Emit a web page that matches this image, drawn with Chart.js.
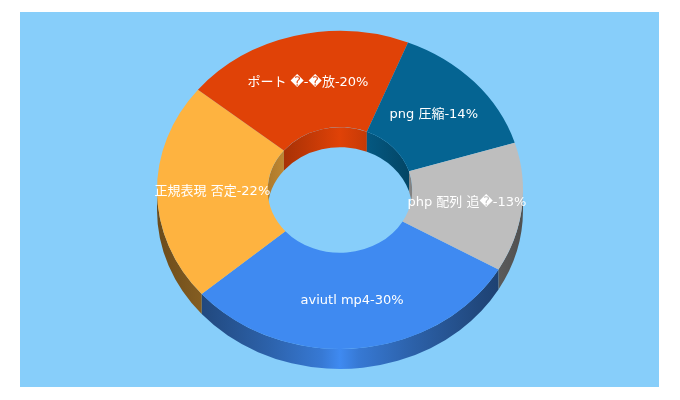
<!DOCTYPE html>
<html>
<head>
<meta charset="utf-8">
<title>3D donut</title>
<style>
  html, body { margin: 0; padding: 0; background: #fff; }
  #wrap { position: relative; width: 680px; height: 400px; overflow: hidden; }
  #panel { position: absolute; left: 20px; top: 12px; width: 639px; height: 375px; background: #87CEFA; }
  #chart { position: absolute; left: 0; top: 0; }
</style>
</head>
<body>
<div id="wrap">
  <div id="panel"></div>
  <canvas id="chart" width="680" height="400"></canvas>
</div>
<script src="https://cdn.jsdelivr.net/npm/chart.js@4"></script>
<script>
/* Data, clockwise from the blue slice */
var categories = ['aviutl mp4', '正規表現 否定', 'ポート \uFFFD-\uFFFD放', 'png 圧縮', 'php 配列 追\uFFFD'];
var shares     = [30, 22, 20, 14, 13];
var sliceRGB   = [[63, 138, 241], [254, 179, 64], [224, 66, 7], [5, 100, 146], [190, 190, 190]];

/* Fake 3D: the flat doughnut is squashed vertically and sits on extruded walls */
var SQUASH = 159 / 183;
var DEPTH  = 20;

function shade(rgb, k) {
  return 'rgb(' + rgb.map(function (c) { return Math.round(c * k); }).join(',') + ')';
}

// Dark at both ends, the slice's own colour in the middle
function wallGradient(ctx, cx, r, rgb, stops) {
  var g = ctx.createLinearGradient(cx - r, 0, cx + r, 0);
  stops.forEach(function (s) {
    g.addColorStop(s[0], shade(rgb, s[1]));
    g.addColorStop(1 - s[0], shade(rgb, s[1]));
  });
  return g;
}

var OUTER_STOPS = [[0, 0.42], [0.12, 0.52], [0.3, 0.7], [0.45, 0.88], [0.5, 1]];
var INNER_STOPS = [[0, 0.68], [0.25, 0.84], [0.5, 1]];

// Strip between an ellipse arc and the same arc moved down by DEPTH
function drawWall(ctx, el, r, from, to, fill) {
  var ry = r * SQUASH;
  ctx.beginPath();
  ctx.ellipse(el.x, el.y, r, ry, 0, from, to, false);
  ctx.ellipse(el.x, el.y + DEPTH, r, ry, 0, to, from, true);
  ctx.closePath();
  ctx.fillStyle = fill;
  ctx.fill();
}

var donut3d = {
  id: 'donut3d',
  beforeDatasetsDraw: function (chart) {
    var ctx = chart.ctx;
    var TAU = Math.PI * 2;
    chart.getDatasetMeta(0).data.forEach(function (arc, i) {
      var el = arc.getProps(['x', 'y', 'startAngle', 'endAngle', 'outerRadius', 'innerRadius'], true);
      var rgb = sliceRGB[i];
      // Each slice may wrap past 360, so try it at both turns
      [0, TAU].forEach(function (turn) {
        var a = el.startAngle - turn;
        var b = el.endAngle - turn;
        // front half shows the outer wall
        var f0 = Math.max(a, 0), f1 = Math.min(b, Math.PI);
        if (f1 > f0) {
          drawWall(ctx, el, el.outerRadius, f0, f1, wallGradient(ctx, el.x, el.outerRadius, rgb, OUTER_STOPS));
        }
        // back half shows the inside of the hole
        var b0 = Math.max(a, Math.PI), b1 = Math.min(b, TAU);
        if (b1 > b0) {
          drawWall(ctx, el, el.innerRadius, b0, b1, wallGradient(ctx, el.x, el.innerRadius, rgb, INNER_STOPS));
        }
      });
    });
  },
  beforeDatasetDraw: function (chart) {
    var ctx = chart.ctx;
    var el = chart.getDatasetMeta(0).data[0];
    ctx.save();
    ctx.translate(el.x, el.y);
    ctx.scale(1, SQUASH);
    ctx.translate(-el.x, -el.y);
  },
  afterDatasetDraw: function (chart) {
    chart.ctx.restore();
  },
  afterDatasetsDraw: function (chart) {
    var ctx = chart.ctx;
    ctx.save();
    ctx.font = '13px "DejaVu Sans", "Noto Sans CJK JP", sans-serif';
    ctx.fillStyle = '#fff';
    ctx.textAlign = 'center';
    ctx.textBaseline = 'middle';
    chart.getDatasetMeta(0).data.forEach(function (arc, i) {
      var el = arc.getProps(['x', 'y', 'startAngle', 'endAngle', 'outerRadius', 'innerRadius'], true);
      var mid = (el.startAngle + el.endAngle) / 2;
      var r = (el.outerRadius + el.innerRadius) / 2;
      ctx.fillText(categories[i] + '-' + shares[i] + '%',
        el.x + r * Math.cos(mid),
        el.y + r * SQUASH * Math.sin(mid));
    });
    ctx.restore();
  }
};

new Chart(document.getElementById('chart'), {
  type: 'doughnut',
  data: {
    labels: categories,
    datasets: [{
      data: shares,
      backgroundColor: sliceRGB.map(function (c) { return shade(c, 1); }),
      borderWidth: 0,
      radius: 183,
      cutout: '39.5%'
    }]
  },
  options: {
    responsive: false,
    animation: false,
    rotation: 120,
    layout: { padding: { bottom: 20 } },
    plugins: { legend: { display: false }, tooltip: { enabled: false } }
  },
  plugins: [donut3d]
});
</script>
</body>
</html>
